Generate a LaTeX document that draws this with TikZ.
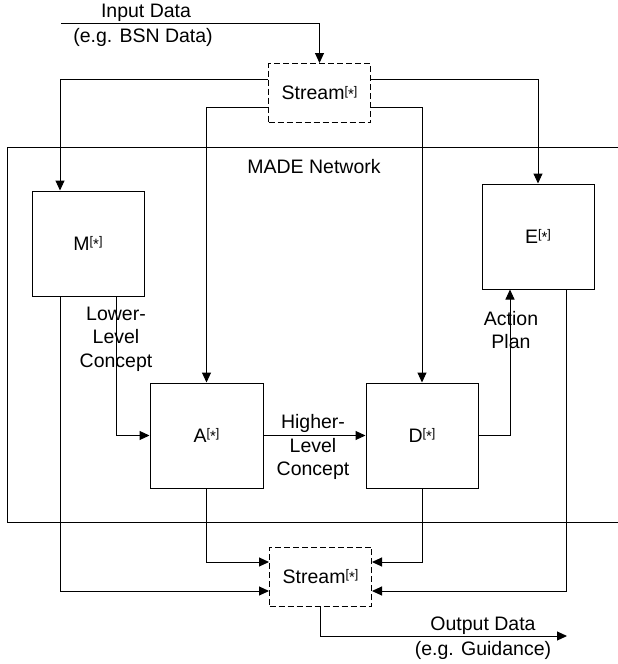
\documentclass[tikz,border=0pt]{standalone}
\usepackage{fontspec}
\setmainfont{Liberation Sans}
\usetikzlibrary{arrows.meta,calc}
\newcommand\mystar{\raisebox{4.5pt}{\fontsize{12.5}{12.5}\selectfont[\raisebox{-4pt}{\fontsize{15}{15}\selectfont *}]}}
\begin{document}
\begin{tikzpicture}[x=1pt,y=-1pt,
  every node/.style={font=\fontsize{19.5}{23.5}\selectfont, inner sep=0pt},
  boxnode/.style={draw, line width=1pt, minimum width=112pt, minimum height=105pt},
  streambox/.style={draw, line width=1pt, dash pattern=on 6pt off 3pt, minimum width=102pt, minimum height=59pt},
  conn/.style={line width=1pt},
  arr/.style={line width=1pt, -{Triangle[length=10pt,width=9pt]}},
  lbl/.style={align=center}
]
\useasboundingbox (0,0) rectangle (618,664);
% MADE network frame
\draw[line width=1pt] (625,147) -- (7,147) -- (7,522) -- (625,522);
\node (made) at (314,167) {MADE Network};

% nodes
\node[streambox] (S1) at (319.5,93) {Stream\mystar};
\node[streambox] (S2) at (320.5,576.5) {Stream\mystar};
\node[boxnode] (M) at (88,243.5) {M\mystar};
\node[boxnode] (E) at (538,236.5) {E\mystar};
\node[boxnode, minimum width=113pt] (A) at (206.5,435.5) {A\mystar};
\node[boxnode] (D) at (422,435.5) {D\mystar};

\coordinate (in) at (61,23);
\coordinate (out) at (567,636);

% input
\draw[arr] (in) -| (S1.north);
\node (inlbl1) at (146,13) {Input Data};
\node (inlbl2) at (143,37) {(e.g. BSN Data)};

% stream to agents
\draw[arr] (S1.west |- 0,79) -| ([xshift=-28pt]M.north);
\draw[arr] (S1.west |- 0,107) -| (A.north);
\draw[arr] (S1.east |- 0,79) -| (E.north);
\draw[arr] (S1.east |- 0,107) -| (D.north);

% internal flow
\draw[arr] ([xshift=28pt]M.south) |- (A.west);
\draw[arr] (A.east) -- (D.west);
\draw[arr] (D.east) -| ([xshift=-28pt]E.south);

\node[lbl] (llc) at (116,339) {Lower-\\Level\\Concept};
\node[lbl] (hlc) at (313,447) {Higher-\\Level\\Concept};
\node[lbl] (ap) at (511,330) {Action\\Plan};

% to output stream
\draw[arr] (A.south) |- (S2.west |- 0,562);
\draw[arr] ([xshift=-28pt]M.south) |- (S2.west |- 0,591);
\draw[arr] (D.south) |- (S2.east |- 0,562);
\draw[arr] ([xshift=28pt]E.south) |- (S2.east |- 0,591);

% output
\draw[arr] (S2.south) |- (out);
\node (outlbl1) at (483,626) {Output Data};
\node (outlbl2) at (483,650) {(e.g. Guidance)};
\end{tikzpicture}
\end{document}
